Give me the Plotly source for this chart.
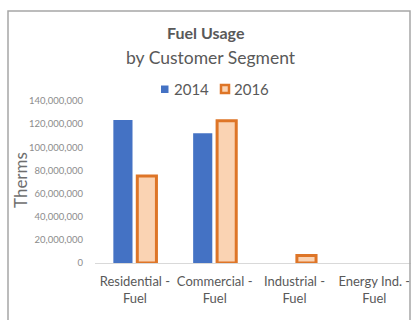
import plotly.graph_objects as go

# Data (None = no bar drawn for that segment/year)
categories = ["Residential -<br>Fuel", "Commercial -<br>Fuel", "Industrial -<br>Fuel", "Energy Ind. -<br>Fuel"]
usage_2014 = [123_600_000, 112_100_000, None, None]
usage_2016 = [75_200_000, 122_900_000, 6_500_000, None]
y_tick_values = [0, 20_000_000, 40_000_000, 60_000_000, 80_000_000, 100_000_000, 120_000_000, 140_000_000]

W, H = 411, 320
L, R, T, B = 95, 0, 101, 57
PW, PH = W - L - R, H - T - B

FONT = "Lato"
TEXT = "#595959"
BLUE = "#4472C4"
ORANGE = "#DE7527"
PEACH = "#FAD3B3"


def px_x(px):
    return (px - L) / PW


def px_y(py):
    return (H - B - py) / PH


fig = go.Figure()
fig.add_trace(go.Bar(x=categories, y=usage_2014, name="2014",
                     marker=dict(color=BLUE, line=dict(width=0))))
fig.add_trace(go.Bar(x=categories, y=usage_2016, name="2016",
                     marker=dict(color=PEACH, line=dict(color=ORANGE, width=3))))

fig.update_layout(
    width=W, height=H,
    margin=dict(l=L, r=R, t=T, b=B),
    paper_bgcolor="white", plot_bgcolor="white",
    barmode="group", bargap=0.4, bargroupgap=0.2,
    showlegend=False,
    font=dict(family=FONT, color=TEXT),
)

fig.update_xaxes(
    range=[-0.5, 3.46], showgrid=False, showline=False, zeroline=False,
    ticks="", ticklabelstandoff=9,
    tickfont=dict(size=13, color=TEXT, family=FONT),
)
fig.update_yaxes(
    range=[0, 140_000_000], tickvals=y_tick_values, tickformat=",d",
    showgrid=False, showline=False, zeroline=True, zerolinecolor="#D9D9D9", zerolinewidth=1,
    ticks="", ticklabelstandoff=11,
    tickfont=dict(size=9.5, color="#8C8C8C", family=FONT),
)

annotations = [
    dict(text="<b>Fuel Usage</b>", x=px_x(206), y=px_y(33), font=dict(size=16, color=TEXT)),
    dict(text="by Customer Segment", x=px_x(211), y=px_y(58), font=dict(size=17.5, color=TEXT)),
    dict(text="Therms", x=px_x(20), y=px_y(180), textangle=-90, font=dict(size=17, color="#6E6E6E")),
    dict(text="2014", x=px_x(172), y=px_y(89), xanchor="left", font=dict(size=15, color=TEXT)),
    dict(text="2016", x=px_x(232), y=px_y(89), xanchor="left", font=dict(size=15, color=TEXT)),
]
for a in annotations:
    a.setdefault("xanchor", "center")
    fig.add_annotation(xref="paper", yref="paper", yanchor="middle", showarrow=False,
                       **a)

shapes = [
    # chart frame
    dict(type="rect", x0=px_x(8), x1=px_x(410), y0=px_y(330), y1=px_y(11),
         line=dict(color="#A6A6A6", width=1.5), fillcolor="rgba(0,0,0,0)"),
    # legend keys
    dict(type="rect", x0=px_x(161), x1=px_x(168.5), y0=px_y(93), y1=px_y(85.5),
         line=dict(width=0), fillcolor=BLUE),
    dict(type="rect", x0=px_x(221), x1=px_x(229), y0=px_y(93), y1=px_y(85),
         line=dict(color=ORANGE, width=2.5), fillcolor=PEACH),
]
for s in shapes:
    fig.add_shape(xref="paper", yref="paper", layer="above", **s)

fig.write_html("out.html")
